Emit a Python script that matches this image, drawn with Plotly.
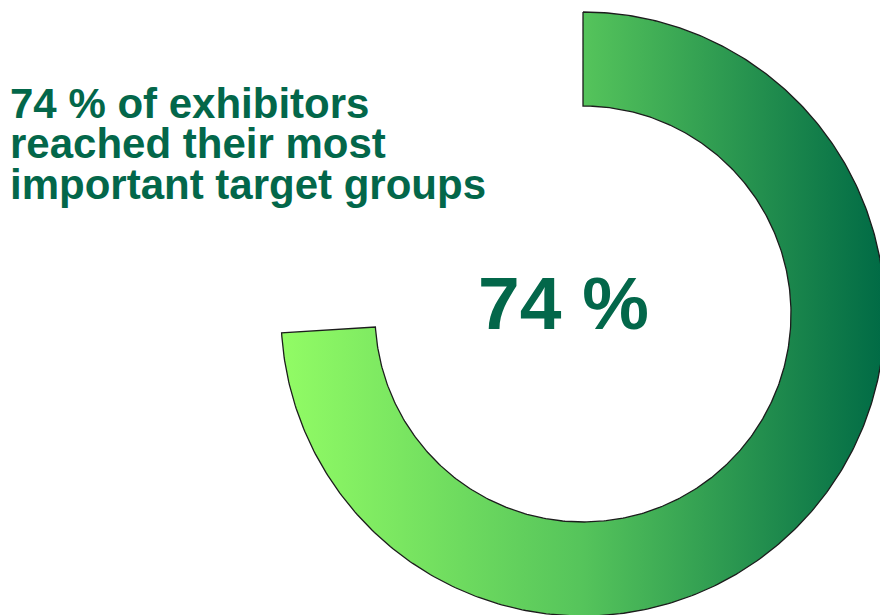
import numpy as np
import plotly.graph_objects as go

# Share of exhibitors who reached their most important target groups
VALUE = 74
TOTAL = 100
HEADLINE = ["74 % of exhibitors", "reached their most", "important target groups"]
CENTER_LABEL = f"{VALUE} %"

W, H = 880, 615
CX, CY = 583, 314
R_OUT, R_IN = 302, 208
GREEN_TEXT = "#03674A"

# Ring segment running clockwise from 12 o'clock, covering VALUE/TOTAL of the circle
sweep = 2 * np.pi * VALUE / TOTAL
t = np.linspace(0, sweep, 400)
xo = CX + R_OUT * np.sin(t)
yo = CY - R_OUT * np.cos(t)
xi = CX + R_IN * np.sin(t[::-1])
yi = CY - R_IN * np.cos(t[::-1])
xs = np.concatenate([xo, xi, xo[:1]])
ys = np.concatenate([yo, yi, yo[:1]])

fig = go.Figure()
fig.add_trace(go.Scatter(
    x=xs, y=ys, mode="lines", fill="toself",
    line=dict(color="#1c1c1c", width=1.3),
    fillgradient=dict(
        type="horizontal",
        colorscale=[[0, "#92FC65"], [0.5, "#55C45B"], [1, "#006A45"]],
    ),
    hoverinfo="skip", showlegend=False,
))

# Headline set line by line to keep the tight leading
font_bold = "Liberation Sans, Arial, sans-serif"
for i, line in enumerate(HEADLINE):
    fig.add_annotation(
        x=8, y=103 + 40.5 * i, xref="x", yref="y", text=f"<b>{line}</b>",
        showarrow=False, xanchor="left", yanchor="middle",
        font=dict(family=font_bold, size=42, color=GREEN_TEXT),
    )

fig.add_annotation(
    x=563, y=303, xref="x", yref="y", text=f"<b>{CENTER_LABEL}</b>",
    showarrow=False, xanchor="center", yanchor="middle",
    font=dict(family=font_bold, size=75, color=GREEN_TEXT),
)

fig.update_layout(
    width=W, height=H, margin=dict(l=0, r=0, t=0, b=0),
    paper_bgcolor="white", plot_bgcolor="white",
    xaxis=dict(range=[0, W], visible=False, fixedrange=True),
    yaxis=dict(range=[H, 0], visible=False, fixedrange=True),
)

fig.write_html("out.html")
